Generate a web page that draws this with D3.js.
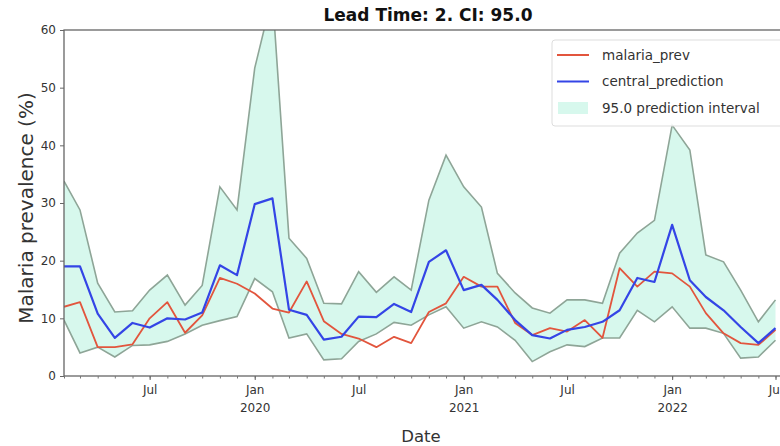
<!DOCTYPE html>
<html>
<head>
<meta charset="utf-8">
<script src="https://cdn.jsdelivr.net/npm/d3@7"></script>
<style>
  body { margin: 0; background: #fff; }
  svg { display: block; font-family: "DejaVu Sans", sans-serif; }
</style>
</head>
<body>
<div id="vis"></div>
<script>
// monthly observations, Feb 2019 .. Jul 2022
const months = [
  "2019-02","2019-03","2019-04","2019-05","2019-06","2019-07","2019-08","2019-09","2019-10","2019-11","2019-12",
  "2020-01","2020-02","2020-03","2020-04","2020-05","2020-06","2020-07","2020-08","2020-09","2020-10","2020-11","2020-12",
  "2021-01","2021-02","2021-03","2021-04","2021-05","2021-06","2021-07","2021-08","2021-09","2021-10","2021-11","2021-12",
  "2022-01","2022-02","2022-03","2022-04","2022-05","2022-06","2022-07"
];

const malariaPrev = [12.0, 12.8, 5.0, 5.0, 5.5, 10.0, 12.8, 7.5, 10.5, 17.0, 16.0,
  14.3, 11.7, 11.0, 16.4, 9.5, 7.3, 6.5, 5.0, 6.8, 5.7, 11.1, 12.6,
  17.2, 15.5, 15.5, 9.2, 7.1, 8.3, 7.7, 9.7, 6.6, 18.7, 15.5, 18.1,
  17.8, 15.5, 10.9, 7.4, 5.7, 5.4, 8.0];

const centralPrediction = [19.0, 19.0, 10.8, 6.6, 9.2, 8.4, 10.0, 9.8, 11.0, 19.2, 17.5,
  29.8, 30.8, 11.5, 10.6, 6.3, 6.8, 10.3, 10.2, 12.5, 11.1, 19.8, 21.8,
  14.9, 15.8, 13.2, 9.7, 7.1, 6.5, 8.0, 8.5, 9.4, 11.4, 17.0, 16.3,
  26.2, 16.6, 13.7, 11.4, 8.5, 5.7, 8.3];

const upperBound = [33.8, 28.8, 16.1, 11.1, 11.3, 14.9, 17.5, 12.3, 15.7, 32.8, 28.8,
  53.4, 66.0, 23.9, 20.4, 12.6, 12.5, 18.1, 14.5, 17.2, 14.9, 30.5, 38.3,
  32.8, 29.3, 17.8, 14.4, 11.8, 10.9, 13.2, 13.2, 12.6, 21.3, 24.8, 27.0,
  43.5, 39.2, 21.0, 19.8, 14.9, 9.4, 13.2];

const lowerBound = [9.7, 4.0, 5.0, 3.3, 5.3, 5.4, 6.0, 7.3, 8.8, 9.6, 10.3,
  16.9, 14.6, 6.6, 7.3, 2.8, 3.0, 6.0, 7.3, 9.3, 8.8, 10.6, 12.0,
  8.3, 9.4, 8.5, 6.2, 2.5, 4.2, 5.4, 5.1, 6.6, 6.6, 11.4, 9.4,
  12.0, 8.3, 8.3, 7.4, 3.1, 3.3, 6.2];

const yTicks = [0, 10, 20, 30, 40, 50, 60];
const xMajorTicks = ["2019-07","2020-01","2020-07","2021-01","2021-07","2022-01","2022-07"];
const legendLabels = ["malaria_prev", "central_prediction", "95.0 prediction interval"];

const width = 780, height = 446;
const plotLeft = 64, plotTop = 30, plotBottom = 376, plotRight = 805;

const parseMonth = d3.utcParse("%Y-%m");
const dates = months.map(parseMonth);

const rows = dates.map((d, i) => ({
  date: d,
  prev: malariaPrev[i],
  central: centralPrediction[i],
  lo: lowerBound[i],
  hi: upperBound[i]
}));

const x = d3.scaleUtc()
    .domain([dates[0], dates[dates.length - 1]])
    .range([plotLeft, 775.5]);

const y = d3.scaleLinear()
    .domain([0, 60])
    .range([plotBottom, plotTop]);

const svg = d3.select("#vis")
  .append("svg")
    .attr("width", width)
    .attr("height", height);

svg.append("defs").append("clipPath")
    .attr("id", "plotclip")
  .append("rect")
    .attr("x", plotLeft)
    .attr("y", plotTop)
    .attr("width", plotRight - plotLeft)
    .attr("height", plotBottom - plotTop);

const plot = svg.append("g").attr("clip-path", "url(#plotclip)");

// prediction interval band
const band = d3.area()
    .x(d => x(d.date))
    .y0(d => y(d.lo))
    .y1(d => y(d.hi));

plot.append("path")
    .datum(rows)
    .attr("d", band)
    .attr("fill", "#d7f8ed");

// band edges
["hi", "lo"].forEach(k => {
  plot.append("path")
      .datum(rows)
      .attr("d", d3.line().x(d => x(d.date)).y(d => y(d[k])))
      .attr("fill", "none")
      .attr("stroke", "#8ea597")
      .attr("stroke-width", 1.6);
});

plot.append("path")
    .datum(rows)
    .attr("d", d3.line().x(d => x(d.date)).y(d => y(d.prev)))
    .attr("fill", "none")
    .attr("stroke", "#e2553d")
    .attr("stroke-width", 1.8)
    .attr("stroke-linejoin", "round");

plot.append("path")
    .datum(rows)
    .attr("d", d3.line().x(d => x(d.date)).y(d => y(d.central)))
    .attr("fill", "none")
    .attr("stroke", "#3445e6")
    .attr("stroke-width", 2.2)
    .attr("stroke-linejoin", "round");

// spines
svg.append("rect")
    .attr("x", plotLeft)
    .attr("y", plotTop)
    .attr("width", plotRight - plotLeft)
    .attr("height", plotBottom - plotTop)
    .attr("fill", "none")
    .attr("stroke", "#666")
    .attr("stroke-width", 1.3);

// y axis
const yAxis = svg.append("g")
    .attr("transform", `translate(${plotLeft},0)`)
    .call(d3.axisLeft(y).tickValues(yTicks).tickSize(4).tickPadding(4));
yAxis.select(".domain").remove();
yAxis.selectAll("line").attr("stroke", "#666");
yAxis.selectAll("text")
    .attr("font-size", 12)
    .attr("font-family", "DejaVu Sans")
    .attr("fill", "#333");

// x axis: monthly minor ticks
const xMinor = svg.append("g")
    .attr("transform", `translate(0,${plotBottom})`)
    .call(d3.axisBottom(x).tickValues(dates).tickSize(2.5).tickFormat(""));
xMinor.select(".domain").remove();
xMinor.selectAll("line").attr("stroke", "#777");

// x axis: Jan / Jul labels
const majorDates = xMajorTicks.map(parseMonth);
const xMajor = svg.append("g")
    .attr("transform", `translate(0,${plotBottom})`)
    .call(d3.axisBottom(x).tickValues(majorDates).tickSize(4).tickPadding(5)
      .tickFormat(d3.utcFormat("%b")));
xMajor.select(".domain").remove();
xMajor.selectAll("line").attr("stroke", "#666");
xMajor.selectAll("text")
    .attr("font-size", 12)
    .attr("font-family", "DejaVu Sans")
    .attr("fill", "#333")
    .each(function (d) {
      if (d.getUTCMonth() === 0) {
        d3.select(this).append("tspan")
            .attr("x", 0)
            .attr("dy", "1.5em")
            .text(d.getUTCFullYear());
      }
    });

// titles
svg.append("text")
    .attr("x", 428)
    .attr("y", 21)
    .attr("text-anchor", "middle")
    .attr("font-size", 17)
    .attr("font-weight", "bold")
    .attr("fill", "#111")
    .text("Lead Time: 2. CI: 95.0");

svg.append("text")
    .attr("x", 421)
    .attr("y", 442)
    .attr("text-anchor", "middle")
    .attr("font-size", 16.5)
    .attr("fill", "#333")
    .text("Date");

svg.append("text")
    .attr("transform", "translate(33,208) rotate(-90)")
    .attr("text-anchor", "middle")
    .attr("font-size", 20)
    .attr("fill", "#333")
    .text("Malaria prevalence (%)");

// legend
const legend = svg.append("g").attr("transform", "translate(552,40)");
legend.append("rect")
    .attr("width", 250)
    .attr("height", 86)
    .attr("rx", 3)
    .attr("fill", "#fff")
    .attr("fill-opacity", 0.85)
    .attr("stroke", "#ddd");

const legendY = d3.scalePoint().domain(legendLabels).range([15, 68]);

legend.selectAll("line.key")
  .data(legendLabels.slice(0, 2))
  .enter().append("line")
    .attr("class", "key")
    .attr("x1", 5).attr("x2", 37)
    .attr("y1", d => legendY(d)).attr("y2", d => legendY(d))
    .attr("stroke", (d, i) => i === 0 ? "#e2553d" : "#3445e6")
    .attr("stroke-width", 2);

legend.append("rect")
    .attr("x", 6)
    .attr("y", legendY(legendLabels[2]) - 6)
    .attr("width", 30)
    .attr("height", 12)
    .attr("fill", "#d7f8ed");

legend.selectAll("text")
  .data(legendLabels)
  .enter().append("text")
    .attr("x", 50)
    .attr("y", d => legendY(d))
    .attr("dy", "0.35em")
    .attr("font-size", 13.5)
    .attr("fill", "#333")
    .text(d => d);
</script>
</body>
</html>
